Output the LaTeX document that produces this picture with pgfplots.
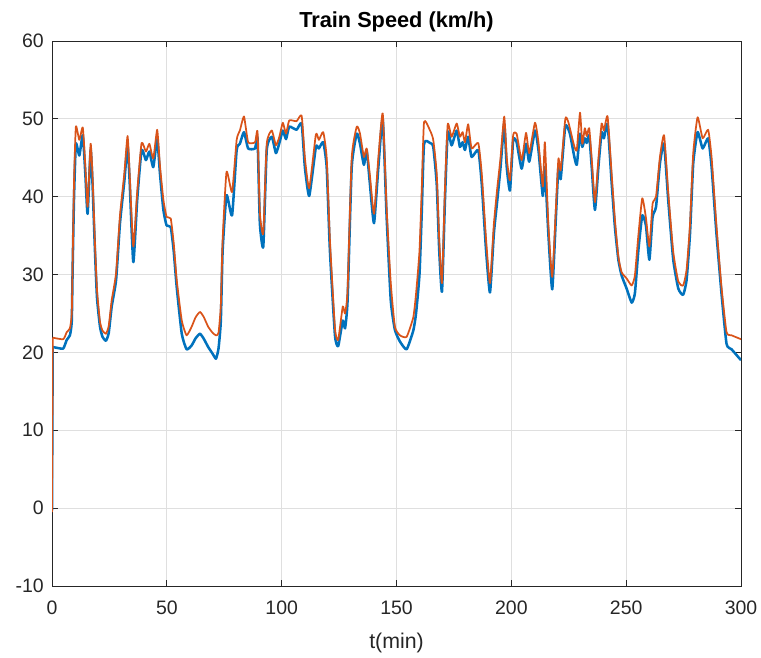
\documentclass[border=0pt]{standalone}
\usepackage{pgfplots}
\pgfplotsset{compat=1.18}
\usepackage{fontspec}
\setmainfont{Liberation Sans}
\definecolor{mblue}{HTML}{0072BD}
\definecolor{morange}{HTML}{D95319}
\definecolor{axgray}{HTML}{262626}
\definecolor{gridgray}{HTML}{DFDFDF}
\begin{document}
\begin{tikzpicture}
\begin{axis}[name=ax,
  width=516.75pt, height=408.75pt, scale only axis,
  xmin=0, xmax=300, ymin=-10, ymax=60,
  xtick={0,50,...,300}, ytick={-10,0,...,60},
  /pgf/number format/assume math mode=true,
  tick label style={font=\fontsize{14.6pt}{17pt}\selectfont, text=axgray},
  xticklabel style={yshift=-8pt},
  yticklabel style={xshift=-2.6pt},
  axis line style={axgray, line width=0.75pt},
  major tick style={axgray, line width=0.75pt},
  major tick length=4.5pt,
  tick align=inside,
  grid=major,
  major grid style={gridgray, line width=0.75pt},
  title={\bfseries Train Speed (km/h)},
  title style={font=\fontsize{16.3pt}{19pt}\selectfont, at={(0.5,1)}, anchor=base, yshift=4pt},
  xlabel={t(min)},
  xlabel style={font=\fontsize{16pt}{19pt}\selectfont, text=axgray, at={(0.5,0)}, anchor=base, yshift=-47pt},
]
\addplot[mblue, line width=1.9pt] coordinates {(0,-0.3) (0.3,20.7)};
\addplot[mblue, line width=1.9pt, line join=round, smooth, tension=0.3] coordinates {
(0.3,20.7) (2,20.6) (4.9,20.5) (6.4,21.6) (7.8,22.2) (8.6,24) (9.0,31) (9.6,40)
(10.4,46.8) (11.9,45.3) (13.4,47.9) (14.5,43) (15.5,37.8) (16.8,46.0) (17.6,42) (18.7,33.1)
(19.6,27) (20.9,23.3) (22,22) (23.5,21.5) (24.7,22.5) (26,25.9) (27.9,29.3) (29.6,36.6)
(31.5,42) (32.9,46.6) (33.8,42) (35.4,31.6) (37.1,39.6) (39.0,46.0) (40.9,44.7) (42.4,45.8)
(44.1,43.8) (45.8,47.4) (47,43) (48.5,38.3) (49.9,36.3) (51.7,36.1) (53,33) (54.3,28.4)
(56.5,22.4) (58.6,20.4) (60.8,20.9) (62.5,21.8) (64.4,22.4) (66,21.8) (68,20.7) (70,19.8)
(71.4,19.2) (72.5,20.5) (73.5,24) (74.3,33.1) (76.0,40.2) (78.4,37.6) (80.4,46.0) (81.8,46.8)
(83.6,48.3) (85.4,46.2) (88.4,46.2) (89.5,47.5) (90.5,36.6) (92.0,33.6) (93.5,46.0) (95.7,47.7)
(97.5,45.6) (99.0,46.9) (100.5,48.5) (101.9,47.4) (103.3,49.0) (106.5,48.6) (108.7,49.4)
(110.1,43.8) (112.0,40.1) (114.9,46.4) (116.2,46.2) (118.1,47.0) (119.6,43.8) (121,33.1)
(123.2,22.2) (124.6,20.8) (126.6,24.1) (127.6,23.1) (128.7,26.7) (130.5,43.8) (132.7,48.1)
(134.1,46.8) (135.8,44.1) (137.0,46.0) (138.4,41.7) (140.2,36.6) (142.1,43.8) (144.0,50.0)
(145.7,37.4) (147.5,26.7) (149.3,22.9) (151.5,21.4) (154.4,20.4) (157.3,22.8) (158.5,25)
(160,30) (161,38) (162,46.8) (164.6,46.9) (166,46.4) (167.5,41.7) (168.6,33.1) (169.8,27.8)
(171.1,39.6) (172.3,48.3) (174.0,46.6) (176.2,48.5) (177.6,46.4) (178.8,47.0) (179.8,46.0)
(181.2,47.7) (182.7,45.1) (185.6,46.0) (187.1,41.7) (189.0,33.1) (190.7,27.7) (192.4,35.3)
(193.9,39.6) (195.3,43.8) (196.9,49.4) (198.0,43.8) (199.4,40.8) (200.8,47.3) (202.3,47.0)
(204.5,43.6) (206.4,46.8) (207.8,44.5) (210.3,48.5) (211.8,46.0) (213.7,40.1) (214.6,43.8)
(216.1,35.3) (217.8,28.1) (219.4,37.4) (220.5,43.8) (221.5,42.3) (223.5,49.1) (225.5,48.1)
(227.3,45.3) (228.5,44.1) (229.9,48.1) (230.9,46.4) (232.0,47.5) (232.8,46.9) (233.9,47.9)
(235.0,43.8) (236.4,38.3) (237.9,43.8) (239.3,48.3) (240.3,47.5) (241.9,49.3) (243.7,41.7)
(245.1,36.1) (246.6,31.9) (248.0,29.9) (250.2,28.2) (252.4,26.4) (253.8,27.6) (255.3,33.1)
(257.0,37.6) (258.6,36.3) (260.1,31.9) (261.5,37.4) (263.0,38.7) (264.7,44.3) (266.5,46.8)
(268.3,39.6) (270.5,31.9) (272.7,28.2) (274.8,27.4) (276.3,29.3) (277.8,35.3) (279.2,44.3)
(281.1,48.3) (283.3,46.2) (285.7,47.5) (287.2,43.8) (289.3,35.3) (291.5,27.6) (293.7,21.1)
(295.9,20.4) (300,19.0)
};
\addplot[morange, line width=1.3pt] coordinates {(0,-0.5) (0.3,21.9)};
\addplot[morange, line width=1.3pt, line join=round, smooth, tension=0.3] coordinates {
(0.3,21.9) (4.9,21.7) (6.4,22.6) (7.8,23.1) (8.6,25) (9.0,32) (9.6,42) (10.4,49.0)
(11.9,47.3) (13.4,48.9) (14.5,44) (15.5,38.7) (16.8,46.8) (17.6,43) (18.7,34) (19.6,28)
(20.9,23.9) (22,22.8) (23.5,22.4) (24.7,23.4) (26,26.7) (27.9,30.2) (29.6,37.6) (31.5,43)
(32.9,47.8) (33.8,43) (35.4,33.6) (37.1,40.6) (39.0,46.9) (40.9,45.8) (42.4,46.8) (44.1,44.9)
(45.8,48.6) (47,44) (48.5,39.6) (49.9,37.4) (51.7,37.2) (53,34) (54.3,29.3) (56.5,24.1)
(58.6,22.2) (60.8,23.3) (62.5,24.5) (64.4,25.2) (66,24.6) (68,23.3) (70,22.5) (71.4,22.2)
(72.5,22.5) (73.5,26) (74.3,34.5) (76.0,43.2) (78.4,40.6) (80.4,47.3) (81.8,48.5) (83.6,50.3)
(85.4,47.0) (88.4,47.0) (89.5,48.3) (90.5,38) (92.0,35.3) (93.5,46.8) (95.7,48.5) (97.5,46.6)
(99.0,47.7) (100.5,49.5) (101.9,48.1) (103.3,49.8) (106.5,49.7) (108.7,50.4) (110.1,45)
(112.0,41.1) (114.9,48.0) (116.2,47.3) (118.1,48.3) (119.6,45) (121,34.5) (123.2,23.1)
(124.6,21.6) (126.6,25.9) (127.6,25.0) (128.7,28) (130.5,45) (132.7,49.0) (134.1,48.1)
(135.8,45.1) (137.0,46.2) (138.4,42.8) (140.2,37.8) (142.1,45) (144.0,50.7) (145.7,38.5)
(147.5,28.9) (149.3,23.3) (151.5,22.2) (154.4,22.0) (157.3,24.5) (158.5,27.5) (160,33) (161,41)
(162,49.6) (164.6,48.5) (166,47.3) (167.5,43) (168.6,34.5) (169.8,28.9) (171.1,41) (172.3,49.3)
(174.0,47.7) (176.2,49.4) (177.6,47.7) (178.8,48.3) (179.8,47) (181.2,49.3) (182.7,46.2)
(185.6,46.9) (187.1,43) (189.0,34.5) (190.7,28.9) (192.4,36.5) (193.9,41.2) (195.3,45)
(196.9,50.3) (198.0,45) (199.4,42.1) (200.8,47.9) (202.3,48.1) (204.5,44.7) (206.4,48.2)
(207.8,45.6) (210.3,49.5) (211.8,47) (213.7,41.3) (214.6,47.0) (216.1,36.5) (217.8,29.7)
(219.4,38.5) (220.5,44.9) (221.5,43.4) (223.5,50.0) (224.8,49.6) (227.3,46.6) (228.5,46.0)
(229.9,50.8) (230.9,46.8) (232.0,48.8) (232.8,47.8) (233.9,48.8) (235.0,44.8) (236.4,39.3)
(237.9,44.8) (239.3,49.4) (240.3,48.5) (241.9,50.3) (243.7,42.8) (245.1,37) (246.6,32.3)
(248.0,30.3) (250.2,29.5) (252.4,28.6) (253.8,29.9) (255.3,35) (257.0,39.8) (258.6,37.3)
(260.1,33.6) (261.5,39.1) (263.0,40.0) (264.7,45.1) (266.5,47.9) (268.3,40.6) (270.5,32.9)
(272.7,29.1) (274.8,28.6) (276.3,30.6) (277.8,36.5) (279.2,45.6) (281.1,50.2) (283.3,47.5)
(285.7,48.6) (287.2,45) (289.3,36.3) (291.5,28.4) (293.7,22.6) (295.9,22.2) (300,21.7)
};
\end{axis}
\pgfresetboundingbox
\path[use as bounding box] ([shift={(-39pt,-53.25pt)}]ax.south west) rectangle ([shift={(15pt,30.75pt)}]ax.north east);
\end{tikzpicture}
\end{document}
